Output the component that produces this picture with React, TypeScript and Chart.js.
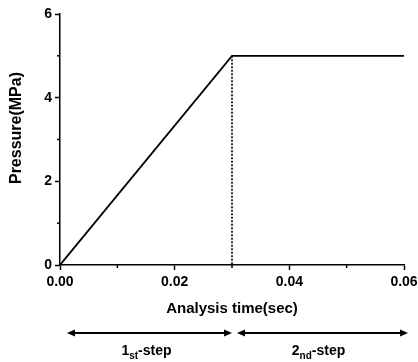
import { useEffect, useRef } from 'react';
import { Chart, registerables } from 'chart.js';

Chart.register(...registerables);

// ---- data ----
const timeSec = [0, 0.03, 0.06];
const pressureMPa = [0, 5, 5];
const boundaryTime = [0.03, 0.03];
const boundaryPressure = [5, 0];
const xTickValues = [0, 0.02, 0.04, 0.06];
const xMinorTickValues = [0.01, 0.03, 0.05];
const yTickValues = [0, 2, 4, 6];
const yMinorTickValues = [1, 3, 5];
const yAxisTitle = 'Pressure(MPa)';
const xAxisTitle = 'Analysis time(sec)';
const stepNumbers = ['1', '2'];
const stepSuffixes = ['st', 'nd'];
const stepWord = '-step';
const stepStarts = [0, 0.03];
const stepEnds = [0.03, 0.06];

const FONT = '"Liberation Sans", Arial, sans-serif';

const annotationsPlugin = {
  id: 'stepAnnotations',
  afterDraw(chart: any) {
    const { ctx, chartArea, scales } = chart;
    const xs = scales.x;
    const ys = scales.y;
    ctx.save();
    ctx.strokeStyle = '#000';
    ctx.fillStyle = '#000';
    ctx.lineWidth = 1.5;
    // minor ticks
    xMinorTickValues.forEach((v) => {
      const px = xs.getPixelForValue(v);
      ctx.beginPath();
      ctx.moveTo(px, chartArea.bottom);
      ctx.lineTo(px, chartArea.bottom + 3);
      ctx.stroke();
    });
    yMinorTickValues.forEach((v) => {
      const py = ys.getPixelForValue(v);
      ctx.beginPath();
      ctx.moveTo(chartArea.left - 3, py);
      ctx.lineTo(chartArea.left, py);
      ctx.stroke();
    });

    // y axis title
    ctx.save();
    ctx.translate(17, chartArea.top + 114);
    ctx.rotate(-Math.PI / 2);
    ctx.font = `bold 16px ${FONT}`;
    ctx.textAlign = 'center';
    ctx.textBaseline = 'middle';
    ctx.fillText(yAxisTitle, 0, 0);
    ctx.restore();

    // arrows
    const arrowY = chartArea.bottom + 68;
    const drawHead = (tipX: number, dir: number) => {
      ctx.beginPath();
      ctx.moveTo(tipX, arrowY);
      ctx.lineTo(tipX - dir * 8, arrowY - 3.5);
      ctx.lineTo(tipX - dir * 8, arrowY + 3.5);
      ctx.closePath();
      ctx.fill();
    };
    stepNumbers.forEach((num, i) => {
      const x1 = xs.getPixelForValue(stepStarts[i]) + (i === 0 ? 7 : 5);
      const x2 = xs.getPixelForValue(stepEnds[i]) + (i === 0 ? 0 : 4);
      ctx.lineWidth = 2;
      ctx.beginPath();
      ctx.moveTo(x1 + 4, arrowY);
      ctx.lineTo(x2 - 4, arrowY);
      ctx.stroke();
      drawHead(x1, -1);
      drawHead(x2, 1);

      // label
      const mainFont = `bold 14px ${FONT}`;
      const subFont = `bold 10px ${FONT}`;
      ctx.font = mainFont;
      const w1 = ctx.measureText(num).width;
      const w3 = ctx.measureText(stepWord).width;
      ctx.font = subFont;
      const w2 = ctx.measureText(stepSuffixes[i]).width;
      const total = w1 + w2 + w3;
      const cx = (x1 + x2) / 2 - (i === 0 ? 3 : 4);
      let x = cx - total / 2;
      const baseY = chartArea.bottom + 90;
      ctx.textAlign = 'left';
      ctx.textBaseline = 'alphabetic';
      ctx.font = mainFont;
      ctx.fillText(num, x, baseY);
      x += w1;
      ctx.font = subFont;
      ctx.fillText(stepSuffixes[i], x, baseY + 4);
      x += w2;
      ctx.font = mainFont;
      ctx.fillText(stepWord, x, baseY);
    });
    ctx.restore();
  },
};

export default function App() {
  const ref = useRef<HTMLCanvasElement>(null);
  useEffect(() => {
    document.body.style.margin = '0';
    const canvas = ref.current;
    if (!canvas) return;
    const chart = new Chart(canvas, {
      type: 'line',
      data: {
        datasets: [
          {
            data: timeSec.map((t, i) => ({ x: t, y: pressureMPa[i] })),
            borderColor: '#000',
            borderWidth: 1.8,
            pointRadius: 0,
            fill: false,
            tension: 0,
          },
          {
            data: boundaryTime.map((t, i) => ({ x: t, y: boundaryPressure[i] })),
            borderColor: '#000',
            borderWidth: 1.6,
            borderDash: [2, 1.5],
            pointRadius: 0,
            fill: false,
            tension: 0,
          },
        ],
      },
      options: {
        animation: false,
        responsive: false,
        layout: { padding: { left: 0, right: 14, top: 14, bottom: 0 } },
        plugins: { legend: { display: false }, tooltip: { enabled: false } },
        scales: {
          x: {
            type: 'linear',
            min: 0,
            max: 0.06,
            afterBuildTicks: (s: any) => {
              s.ticks = xTickValues.map((v) => ({ value: v }));
            },
            afterFit: (s: any) => {
              s.height = 97;
              s.paddingRight = 0;
              s.paddingLeft = 0;
            },
            ticks: {
              color: '#000',
              font: { family: FONT, size: 14, weight: 'bold' },
              padding: 4,
              maxRotation: 0,
              autoSkip: false,
              callback: (v: any) => Number(v).toFixed(2),
            },
            grid: {
              drawOnChartArea: false,
              drawTicks: true,
              tickLength: 5,
              tickColor: '#000',
              tickWidth: 1.5,
            },
            border: { color: '#000', width: 1.5 },
            title: {
              display: true,
              text: xAxisTitle,
              color: '#000',
              font: { family: FONT, size: 15, weight: 'bold' },
              padding: { top: 0, bottom: 44 },
            },
          },
          y: {
            type: 'linear',
            min: 0,
            max: 6,
            afterBuildTicks: (s: any) => {
              s.ticks = yTickValues.map((v) => ({ value: v }));
            },
            afterFit: (s: any) => {
              s.width = 60;
            },
            ticks: {
              color: '#000',
              font: { family: FONT, size: 14, weight: 'bold' },
              padding: 3,
              callback: (v: any) => String(v),
            },
            grid: {
              drawOnChartArea: false,
              drawTicks: true,
              tickLength: 5,
              tickColor: '#000',
              tickWidth: 1.5,
            },
            border: { color: '#000', width: 1.5 },
          },
        },
      },
      plugins: [annotationsPlugin],
    } as any);
    return () => chart.destroy();
  }, []);
  return (
    <canvas
      ref={ref}
      width={418}
      height={362}
      style={{ display: 'block', position: 'absolute', left: 0, top: 0 }}
    />
  );
}
